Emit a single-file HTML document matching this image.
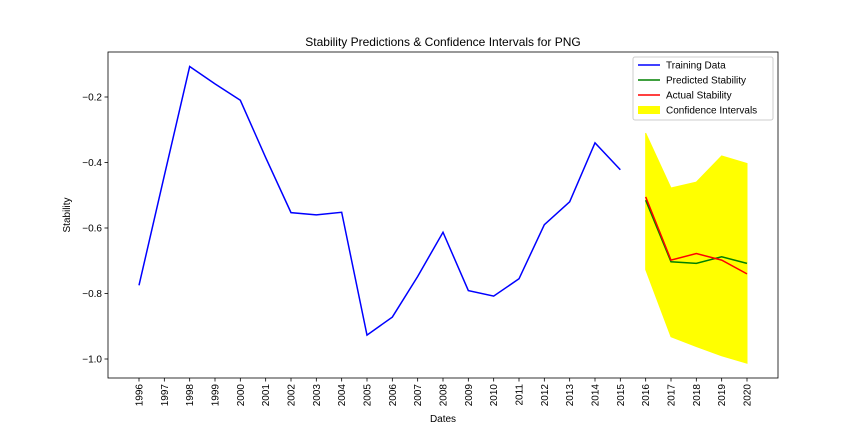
<!DOCTYPE html>
<html><head><meta charset="utf-8"><style>
body{margin:0;background:#fff;}
svg text{font-family:"Liberation Sans","DejaVu Sans",sans-serif;fill:#000;}
</style></head><body>
<svg id="chart" width="864" height="432">
<rect x="0" y="0" width="864" height="432" fill="#fff"/>
<g id="plot"></g>
</svg>
<script>
const years=[1996,1997,1998,1999,2000,2001,2002,2003,2004,2005,2006,2007,2008,2009,2010,2011,2012,2013,2014,2015,2016,2017,2018,2019,2020];
const trainYears=[1996,1997,1998,1999,2000,2001,2002,2003,2004,2005,2006,2007,2008,2009,2010,2011,2012,2013,2014,2015];
const trainVals=[-0.775,-0.44,-0.107,-0.16,-0.21,-0.385,-0.553,-0.56,-0.552,-0.927,-0.872,-0.748,-0.613,-0.791,-0.808,-0.755,-0.59,-0.52,-0.34,-0.422];
const predYears=[2016,2017,2018,2019,2020];
const predVals=[-0.515,-0.703,-0.708,-0.688,-0.708];
const actualVals=[-0.505,-0.698,-0.678,-0.698,-0.74];
const ciUpper=[-0.31,-0.478,-0.46,-0.38,-0.403];
const ciLower=[-0.727,-0.932,-0.962,-0.99,-1.013];
const yTicks=[-1.0,-0.8,-0.6,-0.4,-0.2];
const yTickLabels=["\u22121.0","\u22120.8","\u22120.6","\u22120.4","\u22120.2"];

const L=108,R=778,T=52,B=378;
const x=v=>139+(v-1996)*(747-139)/24;
const y=v=>97+(-0.2-v)*327.5;
const NS="http://www.w3.org/2000/svg";
const g=document.getElementById('plot');
function mk(tag,attrs,text){const e=document.createElementNS(NS,tag);for(const k in attrs)e.setAttribute(k,attrs[k]);if(text!==undefined)e.textContent=text;g.appendChild(e);return e;}

// CI
let pts=predYears.map((yr,i)=>x(yr)+','+y(ciUpper[i]));
for(let i=predYears.length-1;i>=0;i--)pts.push(x(predYears[i])+','+y(ciLower[i]));
let ci=mk('polygon',{points:pts.join(' '),fill:'#ffff00',stroke:'#ffff00'});



function line(xs,vs,color,name){
 const p=mk('polyline',{points:xs.map((yr,i)=>x(yr)+','+y(vs[i])).join(' '),fill:'none',stroke:color,'stroke-width':1.5});
 
 
}
line(trainYears,trainVals,'#0000ff','training-data-line');
line(predYears,predVals,'#008000','predicted-stability-line');
line(predYears,actualVals,'#ff0000','actual-stability-line');

// axes frame
let fr=mk('rect',{x:L,y:T,width:R-L,height:B-T,fill:'none',stroke:'#000','stroke-width':0.8});



years.forEach(yr=>{
 mk('line',{x1:x(yr),x2:x(yr),y1:B,y2:B+3.5,stroke:'#000','stroke-width':0.8});
 const t=mk('text',{x:0,y:0,'font-size':10,'text-anchor':'end',transform:`translate(${x(yr)+3.5},${B+6}) rotate(-90)`},String(yr));
 
 
});
yTicks.forEach((v,i)=>{
 mk('line',{x1:L-3.5,x2:L,y1:y(v),y2:y(v),stroke:'#000','stroke-width':0.8});
 const t=mk('text',{x:L-6,y:y(v)+3.5,'font-size':10,'text-anchor':'end'},yTickLabels[i]);
 
 
});
let xt=mk('text',{x:(L+R)/2,y:422,'font-size':10,'text-anchor':'middle'},'Dates');


let yt=mk('text',{x:0,y:0,'font-size':10,'text-anchor':'middle',transform:`translate(70,${(T+B)/2}) rotate(-90)`},'Stability');


let ti=mk('text',{x:(L+R)/2,y:46,'font-size':12,'text-anchor':'middle'},'Stability Predictions & Confidence Intervals for PNG');



// legend
let lg=mk('rect',{x:633,y:57,width:140,height:63,fill:'#fff',stroke:'#ccc',rx:2});


const entries=[['Training Data','#0000ff','line'],['Predicted Stability','#008000','line'],['Actual Stability','#ff0000','line'],['Confidence Intervals','#ffff00','patch']];
entries.forEach((e,i)=>{
 const yy=65+i*15;
 if(e[2]==='line')mk('line',{x1:638,x2:660,y1:yy,y2:yy,stroke:e[1],'stroke-width':1.5});
 else mk('rect',{x:638,y:yy-4,width:22,height:8,fill:e[1]});
 const t=mk('text',{x:666,y:yy+3.5,'font-size':10},e[0]);
 
 
});
</script>
</body></html>
